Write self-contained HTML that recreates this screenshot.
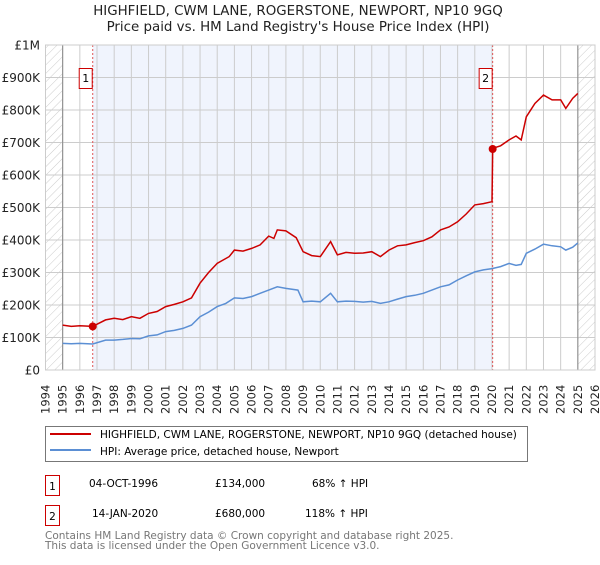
<!DOCTYPE html>
<html><head><meta charset="utf-8"><style>
body{margin:0;background:#fff;font-family:"Liberation Sans","DejaVu Sans",sans-serif;}
svg text{font-family:"DejaVu Sans","Liberation Sans",sans-serif;}
</style></head><body>
<svg id="c" width="600" height="560" xmlns="http://www.w3.org/2000/svg">
<defs><pattern id="hatch" width="6" height="6" patternUnits="userSpaceOnUse" patternTransform="rotate(45)"><line x1="0" y1="0" x2="0" y2="6" stroke="#ccc" stroke-width="1"/></pattern></defs>
<text x="298" y="15" text-anchor="middle" font-size="13.4" fill="#222">HIGHFIELD, CWM LANE, ROGERSTONE, NEWPORT, NP10 9GQ</text>
<text x="298" y="31" text-anchor="middle" font-size="13.4" fill="#222">Price paid vs. HM Land Registry's House Price Index (HPI)</text>
<g id="plot"></g>
<g>
<rect x="45.5" y="426.5" width="482" height="35" fill="#fff" stroke="#777"/>
<line x1="50" y1="434" x2="91" y2="434" stroke="#cc0000" stroke-width="2"/>
<text x="100" y="438" font-size="10.5" fill="#000">HIGHFIELD, CWM LANE, ROGERSTONE, NEWPORT, NP10 9GQ (detached house)</text>
<line x1="50" y1="450" x2="91" y2="450" stroke="#5b8fd4" stroke-width="2"/>
<text x="100" y="455" font-size="10.5" fill="#000">HPI: Average price, detached house, Newport</text>
</g>
<g font-size="10.5" fill="#000">
<rect x="45.5" y="475.5" width="14" height="20" fill="#fff" stroke="#cc0000"/>
<text x="52.5" y="490" text-anchor="middle">1</text>
<text x="89" y="487">04-OCT-1996</text>
<text x="215" y="487">£134,000</text>
<text x="312" y="487">68% ↑ HPI</text>
</g>
<g font-size="10.5" fill="#000">
<rect x="45.5" y="505.5" width="14" height="20" fill="#fff" stroke="#cc0000"/>
<text x="52.5" y="520" text-anchor="middle">2</text>
<text x="92" y="517">14-JAN-2020</text>
<text x="215" y="517">£680,000</text>
<text x="305" y="517">118% ↑ HPI</text>
</g>
<text x="45" y="539" font-size="10.5" fill="#777">Contains HM Land Registry data © Crown copyright and database right 2025.</text>
<text x="45" y="549" font-size="10.5" fill="#777">This data is licensed under the Open Government Licence v3.0.</text>
</svg>
<script>
const yearTicks=[1994,1995,1996,1997,1998,1999,2000,2001,2002,2003,2004,2005,2006,2007,2008,2009,2010,2011,2012,2013,2014,2015,2016,2017,2018,2019,2020,2021,2022,2023,2024,2025,2026];
const yTicks=[0,100,200,300,400,500,600,700,800,900,1000];
const yLabels=["£0","£100K","£200K","£300K","£400K","£500K","£600K","£700K","£800K","£900K","£1M"];
const hpiT=[1995,1995.5,1996,1996.75,1997.5,1998,1998.5,1999,1999.5,2000,2000.5,2001,2001.5,2002,2002.5,2003,2003.5,2004,2004.5,2005,2005.5,2006,2006.5,2007,2007.5,2008,2008.7,2009,2009.5,2010,2010.6,2011,2011.5,2012,2012.5,2013,2013.5,2014,2014.5,2015,2015.5,2016,2016.5,2017,2017.5,2018,2018.5,2019,2019.5,2020,2020.5,2021,2021.4,2021.7,2022,2022.5,2023,2023.5,2024,2024.3,2024.7,2025];
const hpiV=[82,81,82,80,92,92,94,97,96,105,108,118,122,128,138,164,178,195,205,222,220,226,236,246,256,251,246,210,212,210,236,210,212,211,209,211,205,210,218,226,230,236,246,256,262,277,290,302,308,312,318,328,322,325,359,372,387,382,379,369,378,391];
const redT=[1995,1995.5,1996,1996.75,1997.5,1998,1998.5,1999,1999.5,2000,2000.5,2001,2001.5,2002,2002.5,2003,2003.5,2004,2004.7,2005,2005.5,2006,2006.5,2007,2007.3,2007.5,2008,2008.6,2009,2009.5,2010,2010.6,2011,2011.5,2012,2012.5,2013,2013.5,2014,2014.5,2015,2015.5,2016,2016.5,2017,2017.5,2018,2018.5,2019,2019.5,2020.0,2020.04,2020.5,2021,2021.4,2021.7,2022,2022.5,2023,2023.5,2024,2024.3,2024.7,2025];
const redV=[138,134,136,134,154,159,155,164,159,174,180,195,202,210,222,267,300,328,349,369,366,374,385,412,405,431,428,407,364,352,349,395,354,362,359,360,364,349,369,382,385,392,398,410,431,440,456,480,508,512,518,682,690,708,720,708,779,820,846,831,831,805,836,851];
const sales=[{t:1996.75,v:134,n:"1"},{t:2020.04,v:680,n:"2"}];
const X0=45.5,X1=595,Y0=370,Y1=45;
const xs=t=>X0+(t-1994)/(2026-1994)*(X1-X0);
const ys=v=>Y0-v/1000*(Y0-Y1);
const NS="http://www.w3.org/2000/svg";
const g=document.getElementById('plot');
function mk(tag,attrs,parent){const e=document.createElementNS(NS,tag);for(const k in attrs)e.setAttribute(k,attrs[k]);(parent||g).appendChild(e);return e;}
let e;
e=mk('rect',{x:xs(1996.75),y:Y1,width:xs(2020.04)-xs(1996.75),height:Y0-Y1,fill:'#f0f4fd'});


e=mk('rect',{x:X0,y:Y1,width:xs(1995)-X0,height:Y0-Y1,fill:'url(#hatch)'});


e=mk('rect',{x:xs(2025),y:Y1,width:X1-xs(2025),height:Y0-Y1,fill:'url(#hatch)'});


yearTicks.forEach(yr=>{
 e=mk('line',{x1:xs(yr),x2:xs(yr),y1:Y1,y2:Y0,stroke:'#ccc','stroke-width':1});
 
 
 const tx=xs(yr)+4;
 e=mk('text',{x:0,y:0,transform:`translate(${tx},${Y0+44}) rotate(-90)`,'font-size':11.5,fill:'#222'});
 e.textContent=yr;
 
 
});
yTicks.forEach((v,i)=>{
 e=mk('line',{x1:X0,x2:X1,y1:ys(v),y2:ys(v),stroke:'#ccc','stroke-width':1});
 
 
 e=mk('text',{x:40,y:ys(v)+4.5,'text-anchor':'end','font-size':12,fill:'#222'});
 e.textContent=yLabels[i];
 
 
});
[1995,2025].forEach(yr=>{
 e=mk('line',{x1:xs(yr),x2:xs(yr),y1:Y1,y2:Y0,stroke:'#888','stroke-width':1});
 
 
});
sales.forEach(s=>{
 e=mk('line',{x1:xs(s.t),x2:xs(s.t),y1:Y1,y2:Y0,stroke:'#e05555','stroke-width':1,'stroke-dasharray':'2,2'});
 
 
});
const path=(T,V)=>T.map((t,i)=>(i?'L':'M')+xs(t).toFixed(1)+','+ys(V[i]).toFixed(1)).join('');
e=mk('path',{d:path(hpiT,hpiV),fill:'none',stroke:'#5b8fd4','stroke-width':1.5});


e=mk('path',{d:path(redT,redV),fill:'none',stroke:'#cc0000','stroke-width':1.5});


sales.forEach(s=>{
 e=mk('circle',{cx:xs(s.t),cy:ys(s.v),r:4,fill:'#cc0000'});
 
 
 const bx=xs(s.t)-14;
 e=mk('rect',{x:bx+0.5,y:68.5,width:13,height:20,fill:'#fff',stroke:'#cc0000'});
 
 
 e=mk('text',{x:bx+7,y:82,'text-anchor':'middle','font-size':11,fill:'#000'});
 e.textContent=s.n;
 
 
});
e=mk('rect',{x:X0,y:Y1,width:X1-X0,height:Y0-Y1,fill:'none',stroke:'#ccc'});


</script>
</body></html>
